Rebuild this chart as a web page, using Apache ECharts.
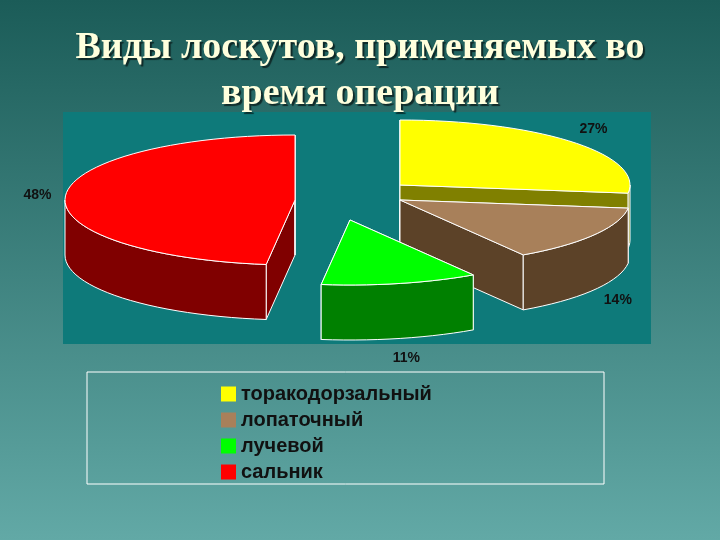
<!DOCTYPE html>
<html><head><meta charset="utf-8">
<script src="https://cdn.jsdelivr.net/npm/echarts@6/dist/echarts.min.js"></script>
<style>html,body{margin:0;padding:0}#c{width:720px;height:540px}</style>
</head><body><div id="c"></div>
<script>
const categories = ['торакодорзальный','лопаточный','лучевой','сальник'];
const values = [27, 14, 11, 48];
const labels = ['27%','14%','11%','48%'];
const topColors = ['#FFFF00','#A8805A','#00FF00','#FF0000'];
const wallColors = ['#808000','#5C4228','#008000','#800000'];
const offsets = [[50,-15],[50,0],[0,20],[-55,0]];
const drawOrder = [0,1,3,2];

const CX=350, CY=200, RX=230, RY=65, DEPTH=55;
const total = values.reduce((a,b)=>a+b,0);
const starts = []; let acc=0;
values.forEach(v=>{starts.push(acc/total*360); acc+=v;});
const rad = d=>d*Math.PI/180;

function pt(c,t,dz){return [c[0]+RX*Math.sin(rad(t)), c[1]-RY*Math.cos(rad(t))+(dz||0)];}
function arc(c,a,b,dz){const n=Math.max(2,Math.ceil((b-a)/3)),out=[];for(let i=0;i<=n;i++)out.push(pt(c,a+(b-a)*i/n,dz));return out;}

function renderSlice(i){
  return function(){
    const c=[CX+offsets[i][0], CY+offsets[i][1]];
    const a=starts[i], b=a+values[i]/total*360;
    const st={stroke:'#ffffff',lineWidth:1};
    const ch=[];
    [a,b].forEach(t=>{
      const p=pt(c,t);
      ch.push({type:'polygon',shape:{points:[c,p,[p[0],p[1]+DEPTH],[c[0],c[1]+DEPTH]]},style:Object.assign({fill:wallColors[i]},st)});
    });
    const wa=Math.max(a,90), wb=Math.min(b,270);
    if(wb>wa){
      const top=arc(c,wa,wb,0), bot=arc(c,wa,wb,DEPTH).reverse();
      ch.push({type:'polygon',shape:{points:top.concat(bot)},style:Object.assign({fill:wallColors[i]},st)});
    }
    ch.push({type:'polygon',shape:{points:[c].concat(arc(c,a,b,0))},style:Object.assign({fill:topColors[i]},st)});
    const m=(a+b)/2, cosm=Math.cos(rad(m));
    ch.push({type:'text',x:c[0]+(RX+28)*Math.sin(rad(m)),y:c[1]-(RY+20)*cosm+(cosm<0?DEPTH:0),
      style:{text:labels[i],fill:'#111',font:'bold 14px Arial',align:'center',verticalAlign:'middle'}});
    return {type:'group',children:ch};
  };
}

const chart=echarts.init(document.getElementById('c'));
chart.setOption({
  animation:false,
  backgroundColor:{type:'linear',x:0,y:0,x2:0,y2:1,colorStops:[{offset:0,color:'#1B5C58'},{offset:1,color:'#62A9A6'}]},
  title:{text:'Виды лоскутов, применяемых во\nвремя операции',left:'center',top:20,
    textStyle:{fontFamily:'Liberation Serif',fontSize:38,fontWeight:'bold',color:'#FFFFDD',lineHeight:46,
      textShadowColor:'rgba(0,0,0,0.6)',textShadowOffsetX:2,textShadowOffsetY:2,textShadowBlur:1}},
  graphic:[
    {type:'rect',shape:{x:63,y:112,width:588,height:232},style:{fill:'#0E7A7A'},z:-1},
    {type:'rect',shape:{x:87,y:372,width:517,height:112},style:{fill:'none',stroke:'#ffffff',lineWidth:1},z:-1}
  ],
  legend:{data:categories,orient:'vertical',left:216,top:379,icon:'rect',itemWidth:15,itemHeight:15,itemGap:6,
    textStyle:{fontFamily:'Liberation Sans',fontSize:20,fontWeight:'bold',color:'#111'}},
  series:drawOrder.map(i=>({type:'custom',name:categories[i],coordinateSystem:'none',data:[values[i]],
    itemStyle:{color:topColors[i]},renderItem:renderSlice(i)}))
});
</script></body></html>
